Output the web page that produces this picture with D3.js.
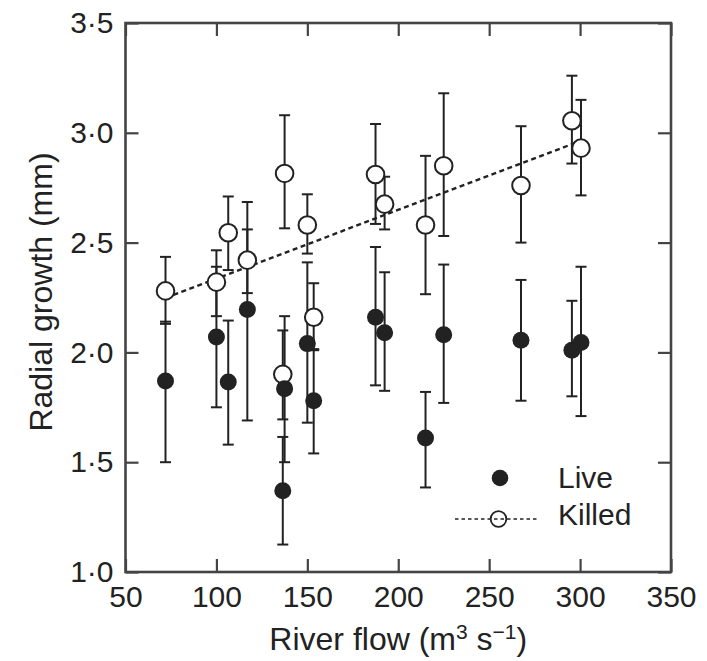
<!DOCTYPE html>
<html>
<head>
<meta charset="utf-8">
<script src="https://cdn.jsdelivr.net/npm/d3@7"></script>
<style>
  body { margin: 0; background: #fff; }
  svg { display: block; font-family: "Liberation Sans", Arial, Helvetica, sans-serif; }
</style>
</head>
<body>
<div id="chart"></div>
<script>
// River flow (m3 s-1) of each sampling date, shared by both series
const riverFlow = [72, 100, 106.5, 117, 137.5, 136.5, 150, 153.5, 187.5, 192.5, 215, 225, 267.5, 295.5, 300.5];

// Live trees: mean radial growth and error bar ends (mm)
const liveMean = [1.87, 2.07, 1.865, 2.195, 1.835, 1.37, 2.04, 1.78, 2.16, 2.09, 1.61, 2.08, 2.055, 2.01, 2.045];
const liveLow  = [1.50, 1.75, 1.58, 1.69, 1.50, 1.125, 1.68, 1.54, 1.85, 1.825, 1.385, 1.77, 1.78, 1.80, 1.71];
const liveHigh = [2.14, 2.39, 2.145, 2.685, 2.165, 1.615, 2.41, 2.015, 2.48, 2.365, 1.82, 2.40, 2.33, 2.235, 2.39];

// Killed trees
const killedMean = [2.28, 2.32, 2.545, 2.42, 2.815, 1.90, 2.58, 2.16, 2.81, 2.675, 2.58, 2.85, 2.76, 3.055, 2.93];
const killedLow  = [2.13, 2.165, 2.375, 2.27, 2.565, 1.695, 2.45, 2.01, 2.585, 2.56, 2.265, 2.53, 2.50, 2.86, 2.715];
const killedHigh = [2.435, 2.465, 2.71, 2.56, 3.08, 2.10, 2.72, 2.315, 3.04, 2.80, 2.895, 3.18, 3.03, 3.26, 3.15];

// Fitted line for killed trees
const trendFlow = [72, 300.5];
const trendValue = [2.248, 2.964];

const xTicks = [50, 100, 150, 200, 250, 300, 350];
const yTicks = [1.0, 1.5, 2.0, 2.5, 3.0, 3.5];

const width = 707, height = 661;
const margin = { left: 125.5, right: 36, top: 23, bottom: 89 };
const ink = '#222';
const frame = '#444';

const svg = d3.select('#chart')
  .append('svg')
  .attr('width', width)
  .attr('height', height);

const x = d3.scaleLinear().domain([50, 350]).range([margin.left, width - margin.right]);
const y = d3.scaleLinear().domain([1.0, 3.5]).range([height - margin.bottom, margin.top]);

const fmtY = d => d.toFixed(1).replace('.', '·');

// Axes (ticks point inward)
const gx = svg.append('g')
  .attr('transform', `translate(0,${y(1.0)})`)
  .call(d3.axisBottom(x).tickValues(xTicks).tickSizeInner(-13).tickSizeOuter(0).tickPadding(14));
const gxTop = svg.append('g')
  .attr('transform', `translate(0,${y(3.5)})`)
  .call(d3.axisTop(x).tickValues(xTicks).tickSizeInner(-13).tickSizeOuter(0).tickFormat(''));
const gy = svg.append('g')
  .attr('transform', `translate(${x(50)},0)`)
  .call(d3.axisLeft(y).tickValues(yTicks).tickFormat(fmtY).tickSizeInner(-13).tickSizeOuter(0).tickPadding(12));
const gyRight = svg.append('g')
  .attr('transform', `translate(${x(350)},0)`)
  .call(d3.axisRight(y).tickValues(yTicks).tickSizeInner(-13).tickSizeOuter(0).tickFormat(''));

[gx, gxTop, gy, gyRight].forEach(g => {
  g.select('.domain').remove();
  g.selectAll('line').attr('stroke', frame).attr('stroke-width', 2.2);
  g.selectAll('text').attr('font-size', 30).attr('fill', ink).attr('font-family', null);
});

// Frame
svg.append('rect')
  .attr('x', x(50))
  .attr('y', y(3.5))
  .attr('width', x(350) - x(50))
  .attr('height', y(1.0) - y(3.5))
  .attr('fill', 'none')
  .attr('stroke', frame)
  .attr('stroke-width', 2.6);

// Axis titles
const xTitle = svg.append('text')
  .attr('x', (x(50) + x(350)) / 2)
  .attr('y', 650)
  .attr('text-anchor', 'middle')
  .attr('font-size', 32)
  .attr('fill', ink);
xTitle.append('tspan').text('River flow (m');
xTitle.append('tspan').attr('dy', -11).attr('font-size', 21).text('3');
xTitle.append('tspan').attr('dy', 11).text(' s');
xTitle.append('tspan').attr('dy', -11).attr('font-size', 21).text('\u22121');
xTitle.append('tspan').attr('dy', 11).text(')');

svg.append('text')
  .attr('transform', `translate(52,292) rotate(-90)`)
  .attr('text-anchor', 'middle')
  .attr('font-size', 32)
  .attr('fill', ink)
  .text('Radial growth (mm)');

// Data tables
const live = riverFlow.map((f, i) => ({ flow: f, mean: liveMean[i], low: liveLow[i], high: liveHigh[i] }));
const killed = riverFlow.map((f, i) => ({ flow: f, mean: killedMean[i], low: killedLow[i], high: killedHigh[i] }));

const capHalf = 5.5;

function errorBars(data, cls) {
  const g = svg.append('g').attr('class', cls)
    .attr('stroke', ink)
    .attr('stroke-width', 2);
  g.selectAll('line.stem')
    .data(data)
    .enter()
    .append('line')
    .attr('x1', d => x(d.flow))
    .attr('x2', d => x(d.flow))
    .attr('y1', d => y(d.low))
    .attr('y2', d => y(d.high));
  g.selectAll('line.top')
    .data(data)
    .enter()
    .append('line')
    .attr('x1', d => x(d.flow) - capHalf)
    .attr('x2', d => x(d.flow) + capHalf)
    .attr('y1', d => y(d.high))
    .attr('y2', d => y(d.high));
  g.selectAll('line.bottom')
    .data(data)
    .enter()
    .append('line')
    .attr('x1', d => x(d.flow) - capHalf)
    .attr('x2', d => x(d.flow) + capHalf)
    .attr('y1', d => y(d.low))
    .attr('y2', d => y(d.low));
}

errorBars(live, 'live-bars');
errorBars(killed, 'killed-bars');

// Regression line for killed
svg.append('path')
  .datum(trendFlow.map((f, i) => [f, trendValue[i]]))
  .attr('d', d3.line().x(d => x(d[0])).y(d => y(d[1])))
  .attr('fill', 'none')
  .attr('stroke', ink)
  .attr('stroke-width', 2.4)
  .attr('stroke-dasharray', '5,3.5');

// Points
svg.append('g')
  .selectAll('circle')
  .data(killed)
  .enter()
  .append('circle')
  .attr('cx', d => x(d.flow))
  .attr('cy', d => y(d.mean))
  .attr('r', 8.8)
  .attr('fill', '#fff')
  .attr('stroke', ink)
  .attr('stroke-width', 2);

svg.append('g')
  .selectAll('circle')
  .data(live)
  .enter()
  .append('circle')
  .attr('cx', d => x(d.flow))
  .attr('cy', d => y(d.mean))
  .attr('r', 8.5)
  .attr('fill', ink);

// Legend
const legend = svg.append('g');
legend.append('circle')
  .attr('cx', 500).attr('cy', 478).attr('r', 8.3)
  .attr('fill', ink);
legend.append('text')
  .attr('x', 558).attr('y', 488)
  .attr('font-size', 30).attr('fill', ink)
  .text('Live');
legend.append('line')
  .attr('x1', 455).attr('x2', 539)
  .attr('y1', 519).attr('y2', 519)
  .attr('stroke', ink)
  .attr('stroke-width', 1.6)
  .attr('stroke-dasharray', '3.5,3');
legend.append('circle')
  .attr('cx', 498.5).attr('cy', 519).attr('r', 7.8)
  .attr('fill', 'none')
  .attr('stroke', ink)
  .attr('stroke-width', 1.8);
legend.append('text')
  .attr('x', 558).attr('y', 525)
  .attr('font-size', 30).attr('fill', ink)
  .text('Killed');
</script>
</body>
</html>
